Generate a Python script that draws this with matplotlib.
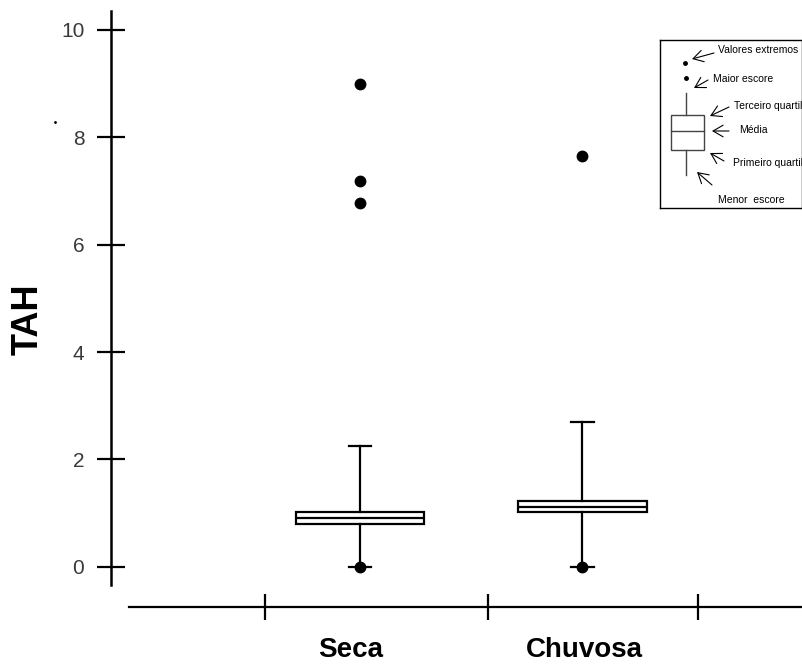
import matplotlib

matplotlib.use("Agg")
import matplotlib.pyplot as plt
from matplotlib.lines import Line2D

# ---------------------------------------------------------------------------
# Data
# ---------------------------------------------------------------------------
categories = ["Seca", "Chuvosa"]
q1 = [0.80, 1.01]
median = [0.91, 1.12]
q3 = [1.01, 1.23]
whisker_low = [0.0, 0.0]
whisker_high = [2.25, 2.69]
outliers = [[0.0, 6.77, 7.18, 8.99], [0.0, 7.65]]

y_ticks = [0, 2, 4, 6, 8, 10]
x_sep_ticks = [0.573, 1.575, 2.519]

plt.rcParams["font.family"] = ["Liberation Sans", "DejaVu Sans"]

fig = plt.figure(figsize=(8.03, 6.66), dpi=100)
W, H = 803, 666
ax = fig.add_axes([110.7 / W, 0, (W - 110.7) / W, (H - 11.2) / H])
ax.set_xlim(-0.1204, 2.991)
ax.set_ylim(-1.850, 10.35)

stats = []
for i, name in enumerate(categories):
    stats.append(dict(label=name, med=median[i], q1=q1[i], q3=q3[i],
                      whislo=whisker_low[i], whishi=whisker_high[i],
                      fliers=outliers[i]))

lw = 1.6
ax.bxp(stats, positions=[1, 2], widths=0.577, capwidths=0.1,
       patch_artist=True, manage_ticks=False,
       boxprops=dict(facecolor="white", edgecolor="black", linewidth=lw),
       medianprops=dict(color="black", linewidth=lw),
       whiskerprops=dict(color="black", linewidth=lw),
       capprops=dict(color="black", linewidth=lw),
       flierprops=dict(marker="o", markersize=7.5, markerfacecolor="black",
                       markeredgecolor="black"))

# axes styling
for s in ["top", "right"]:
    ax.spines[s].set_visible(False)
ax.spines["left"].set_linewidth(1.8)
ax.spines["left"].set_bounds(-0.34, 10.35)
ax.spines["bottom"].set_position(("data", -0.75))
ax.spines["bottom"].set_bounds(-0.038, 2.991)
ax.spines["bottom"].set_linewidth(1.6)

ax.set_yticks(y_ticks)
ax.set_yticklabels([str(v) for v in y_ticks])
ax.tick_params(axis="y", direction="inout", length=20, width=1.6,
               pad=9, labelsize=15, labelcolor="#3a3a3a")
ax.set_xticks(x_sep_ticks)
ax.set_xticklabels([])
ax.tick_params(axis="x", direction="inout", length=19, width=1.6)

for i, name in enumerate(categories):
    ax.text([0.96, 2.01][i], -1.68, name, ha="center", va="baseline",
            fontsize=20, fontweight="bold")

fig.text(28 / W, 1 - 319 / H, "TAH", rotation=90, ha="center", va="center",
         fontsize=26, fontweight="bold")
fig.add_artist(Line2D([55 / W], [1 - 122 / H], marker=".", markersize=2,
                      color="black"))

# ---------------------------------------------------------------------------
# Key diagram (inset)
# ---------------------------------------------------------------------------
ins = fig.add_axes([660 / W, 1 - 208 / H, 142 / W, 168 / H])
ins.set_xlim(0, 142)
ins.set_ylim(168, 0)
ins.set_xticks([])
ins.set_yticks([])
for s in ins.spines.values():
    s.set_linewidth(1.0)

ins.add_patch(plt.Rectangle((11, 75), 33, 35, facecolor="white",
                            edgecolor="#444444", linewidth=1.0))
ins.plot([11, 44], [91, 91], color="#444444", lw=1.0)
ins.plot([26, 26], [53, 75], color="#444444", lw=1.0)
ins.plot([26, 26], [110, 135], color="#444444", lw=1.0)
ins.plot([25, 26], [23, 38], "o", color="black", ms=2.5)

key = [
    ("Valores extremos", (58, 10), (54, 13), (32, 19)),
    ("Maior escore", (53, 39), (48, 40), (34, 48)),
    ("Terceiro quartil", (74, 66), (69, 67), (50, 76)),
    ("Média", (79, 90), (69, 91), (52, 91)),
    ("Primeiro quartil", (73, 123), (64, 121), (50, 113)),
    ("Menor  escore", (58, 160), (52, 145), (37, 132)),
]
for label, tpos, tail, head in key:
    ins.text(tpos[0], tpos[1], label, fontsize=7.5, ha="left", va="center")
    ins.annotate("", xy=head, xytext=tail,
                 arrowprops=dict(arrowstyle="->,head_length=0.6,head_width=0.35",
                                 lw=0.8, color="black", mutation_scale=12,
                                 shrinkA=0, shrinkB=0))

fig.savefig("out.png", dpi=100)
